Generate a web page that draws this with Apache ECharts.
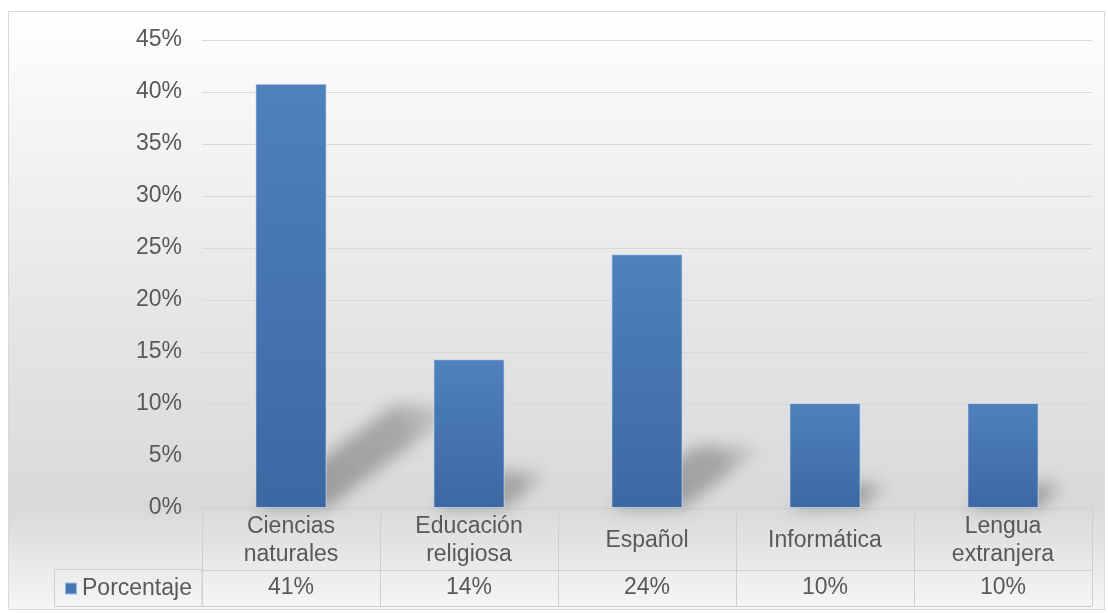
<!DOCTYPE html>
<html>
<head>
<meta charset="utf-8">
<script src="https://cdn.jsdelivr.net/npm/echarts@6/dist/echarts.min.js"></script>
<style>
    html, body { margin: 0; padding: 0; background: #fff; }
    #frame {
        position: absolute; left: 8px; top: 11px; width: 1095px; height: 597px;
        border: 1px solid #d9d9d9;
        background: linear-gradient(to bottom, #ffffff 0%, #f7f7f7 15%, #e6e6e6 50%, #d9d9d9 83%, #f6f6f6 100%);
    }
    #chart { position: absolute; left: 0; top: 0; width: 1108px; height: 613px; }
</style>
</head>
<body>
<div id="frame"></div>
<div id="chart"></div>
<script>
// Data
const subjects = ['Ciencias\nnaturales', 'Educación\nreligiosa', 'Español', 'Informática', 'Lengua\nextranjera'];
const percentages = [40.8, 14.3, 24.4, 10.1, 10.1];
const seriesName = 'Porcentaje';

const textColor = '#595959';
const lineColor = '#cfcfcf';
const font = "'Liberation Sans', Arial, sans-serif";

const chart = echarts.init(document.getElementById('chart'));

// Soft perspective shadow behind each bar.
// The shape is drawn off-canvas and only its blurred canvas shadow is moved back in.
const OFF = 3000;
function renderShadow(params, api) {
    const i = api.value(0);
    const v = api.value(1);
    const base = api.coord([i, 0]);
    const top = api.coord([i, v]);
    const h = base[1] - top[1];
    const w = api.size([1, 0])[0] * 0.4;
    const x0 = base[0] - w / 2 - OFF;
    const x1 = base[0] + w / 2 - OFF;
    const dx = h * 0.33;
    const dy = h * 0.245;
    return {
        type: 'polygon',
        shape: {
            points: [[x0, base[1]], [x1, base[1]], [x1 + dx, base[1] - dy], [x0 + dx, base[1] - dy]]
        },
        style: {
            fill: new echarts.graphic.LinearGradient(0, 1, 1, 0, [
                { offset: 0, color: 'rgba(0,0,0,1)' },
                { offset: 0.7, color: 'rgba(0,0,0,0.8)' },
                { offset: 1, color: 'rgba(0,0,0,0.05)' }
            ]),
            shadowBlur: 15,
            shadowOffsetX: OFF,
            shadowColor: 'rgba(0,0,0,0.3)'
        }
    };
}

const option = {
    backgroundColor: 'transparent',
    textStyle: { fontFamily: font },
    animation: false,
    grid: { left: 202, right: 16, top: 40, bottom: 105 },
    legend: {
        data: [{ name: seriesName, itemStyle: { color: '#4677b4' } }],
        icon: 'rect',
        itemWidth: 12,
        itemHeight: 12,
        left: 64,
        top: 577,
        padding: 0,
        selectedMode: false,
        textStyle: { fontSize: 23, color: textColor, fontFamily: font }
    },
    xAxis: [
        {
            type: 'category',
            data: subjects,
            position: 'bottom',
            axisLine: { show: true, lineStyle: { color: lineColor } },
            axisTick: { show: true, interval: 0, length: 98, lineStyle: { color: lineColor } },
            axisLabel: {
                interval: 0, fontSize: 23, lineHeight: 28, color: textColor,
                verticalAlign: 'middle', margin: 33
            }
        },
        {
            type: 'category',
            data: subjects,
            position: 'bottom',
            offset: 62,
            axisLine: { show: true, lineStyle: { color: lineColor } },
            axisTick: { show: false },
            axisLabel: {
                interval: 0, fontSize: 23, lineHeight: 28, color: textColor,
                verticalAlign: 'middle', margin: 18,
                formatter: (val, idx) => Math.round(percentages[idx]) + '%'
            }
        },
        {
            type: 'category',
            data: subjects,
            position: 'bottom',
            offset: 98,
            axisLine: { show: true, lineStyle: { color: lineColor } },
            axisTick: { show: false },
            axisLabel: { show: false }
        }
    ],
    yAxis: {
        type: 'value',
        min: 0,
        max: 45,
        interval: 5,
        axisLine: { show: false },
        axisTick: { show: false },
        axisLabel: { formatter: '{value}%', fontSize: 23, color: textColor, margin: 20 },
        splitLine: { lineStyle: { color: '#d9d9d9' } }
    },
    graphic: [
        {
            type: 'rect',
            shape: { x: 54.5, y: 569.5, width: 147.5, height: 37 },
            style: { fill: 'transparent', stroke: lineColor, lineWidth: 1 }
        }
    ],
    series: [
        {
            name: 'shadow',
            type: 'custom',
            renderItem: renderShadow,
            data: percentages.map((v, i) => [i, v]),
            encode: { x: 0, y: 1 },
            clip: false,
            z: 1,
            silent: true
        },
        {
            name: seriesName,
            type: 'bar',
            data: percentages,
            barWidth: '40%',
            z: 3,
            itemStyle: {
                color: new echarts.graphic.LinearGradient(0, 0, 0, 1, [
                    { offset: 0, color: '#4f81bd' },
                    { offset: 1, color: '#3b68a3' }
                ]),
                borderColor: 'rgba(225,235,248,0.6)',
                borderWidth: 1
            }
        }
    ]
};

chart.setOption(option);
window.addEventListener('resize', () => chart.resize());
</script>
</body>
</html>
